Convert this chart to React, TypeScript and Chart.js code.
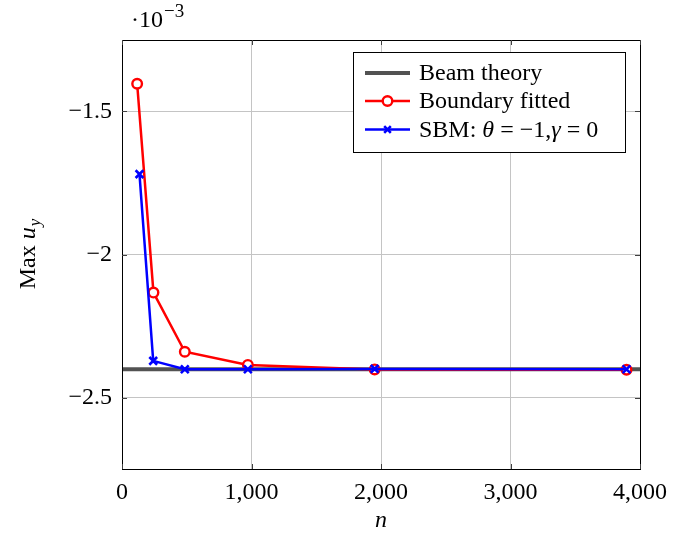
import React, { useEffect, useRef } from "react";
import { Chart, registerables } from "chart.js";

Chart.register(...registerables);

// Mesh size n for each run
const nBoundary = [117, 243, 485, 972, 1951, 3896];
const nSbm = [135, 241, 485, 972, 1951, 3896];
// Max u_y, in units of 1e-3
const uyBoundary = [-1.403, -2.133, -2.34, -2.386, -2.402, -2.403];
const uySbm = [-1.719, -2.372, -2.401, -2.401, -2.4, -2.401];
const uyBeam = -2.401;
const beamRange = [0, 4000];

const yTicks = [-2.5, -2, -1.5];
const xTicks = [0, 1000, 2000, 3000, 4000];
const scaleExponent = "−3";

const FONT = "'Liberation Serif', 'Times New Roman', serif";
const CANVAS_W = 676;
const CANVAS_H = 539;

const frame = {
  id: "frame",
  afterDatasetsDraw(chart: any) {
    const { ctx, chartArea: a } = chart;
    ctx.save();
    ctx.strokeStyle = "#000";
    ctx.lineWidth = 1;
    ctx.strokeRect(Math.round(a.left) + 0.5, Math.round(a.top) + 0.5, Math.round(a.right - a.left), Math.round(a.bottom - a.top));
    // inward tick marks on all four sides
    ctx.strokeStyle = "#404040";
    const xs = chart.scales.x;
    const ys = chart.scales.y;
    ctx.beginPath();
    for (const t of xTicks) {
      const px = Math.round(xs.getPixelForValue(t)) + 0.5;
      ctx.moveTo(px, a.bottom); ctx.lineTo(px, a.bottom - 5);
      ctx.moveTo(px, a.top); ctx.lineTo(px, a.top + 5);
    }
    for (const t of yTicks) {
      const py = Math.round(ys.getPixelForValue(t)) + 0.5;
      ctx.moveTo(a.left, py); ctx.lineTo(a.left + 5, py);
      ctx.moveTo(a.right, py); ctx.lineTo(a.right - 5, py);
    }
    ctx.stroke();
    ctx.restore();
  },
};

function drawRuns(ctx: CanvasRenderingContext2D, x: number, y: number, runs: [string, boolean][], size: number) {
  let cx = x;
  for (const [text, italic] of runs) {
    ctx.font = `${italic ? "italic " : ""}${size}px ${FONT}`;
    ctx.fillText(text, cx, y);
    cx += ctx.measureText(text).width;
  }
  return cx;
}

const annotations = {
  id: "annotations",
  afterDraw(chart: any) {
    const { ctx, chartArea: a } = chart;
    ctx.save();
    ctx.fillStyle = "#000";
    ctx.textBaseline = "alphabetic";
    ctx.textAlign = "left";

    // scale factor above the y axis
    ctx.font = `24px ${FONT}`;
    ctx.fillText("·10", a.left + 9, 27);
    const w = ctx.measureText("·10").width;
    ctx.font = `19px ${FONT}`;
    ctx.fillText(scaleExponent, a.left + 10 + w, 17);

    // x axis title
    ctx.font = `italic 24px ${FONT}`;
    ctx.textAlign = "center";
    ctx.fillText("n", (a.left + a.right) / 2, 527);

    // y axis title
    ctx.save();
    ctx.translate(35, (a.top + a.bottom) / 2);
    ctx.rotate(-Math.PI / 2);
    ctx.textAlign = "left";
    ctx.font = `24px ${FONT}`;
    const p1 = ctx.measureText("Max ").width;
    ctx.font = `italic 24px ${FONT}`;
    const p2 = ctx.measureText("u").width;
    ctx.font = `italic 17px ${FONT}`;
    const p3 = ctx.measureText("y").width;
    const start = -(p1 + p2 + p3) / 2;
    const cx = drawRuns(ctx, start, 0, [["Max ", false], ["u", true]], 24);
    ctx.font = `italic 17px ${FONT}`;
    ctx.fillText("y", cx + 1, 5);
    ctx.restore();

    // legend
    const box = { l: 353.5, t: 52.5, r: 625.5, b: 152.5 };
    ctx.fillStyle = "#fff";
    ctx.fillRect(box.l, box.t, box.r - box.l, box.b - box.t);
    ctx.strokeStyle = "#000";
    ctx.lineWidth = 1;
    ctx.strokeRect(box.l, box.t, box.r - box.l, box.b - box.t);
    const dsets = chart.data.datasets;
    const baselines = [80, 108, 136.5];
    dsets.forEach((ds: any, i: number) => {
      const by = baselines[i];
      const ly = by - 7;
      ctx.strokeStyle = ds.borderColor;
      ctx.lineWidth = ds.borderWidth;
      ctx.beginPath();
      ctx.moveTo(365, ly);
      ctx.lineTo(410, ly);
      ctx.stroke();
      if (ds.pointStyle === "circle" && ds.pointRadius > 0) {
        ctx.fillStyle = "#fff";
        ctx.lineWidth = ds.pointBorderWidth;
        ctx.beginPath();
        ctx.arc(387.5, ly, ds.pointRadius, 0, Math.PI * 2);
        ctx.fill();
        ctx.stroke();
      } else if (ds.pointStyle === "crossRot" && ds.pointRadius > 0) {
        const r = ds.pointRadius * 0.6;
        ctx.lineWidth = ds.pointBorderWidth;
        ctx.beginPath();
        ctx.moveTo(387.5 - r, ly - r); ctx.lineTo(387.5 + r, ly + r);
        ctx.moveTo(387.5 - r, ly + r); ctx.lineTo(387.5 + r, ly - r);
        ctx.stroke();
      }
      ctx.fillStyle = "#000";
      ctx.textAlign = "left";
      if (ds.labelRuns) {
        drawRuns(ctx, 419, by, ds.labelRuns, 24);
      } else {
        ctx.font = `24px ${FONT}`;
        ctx.fillText(ds.label, 419, by);
      }
    });
    ctx.restore();
  },
};

export default function App() {
  const ref = useRef<HTMLCanvasElement | null>(null);

  useEffect(() => {
    if (!ref.current) return;
    const chart = new Chart(ref.current, {
      type: "line",
      data: {
        datasets: [
          {
            label: "Beam theory",
            data: beamRange.map((x) => ({ x, y: uyBeam })),
            borderColor: "#525252",
            backgroundColor: "#525252",
            borderWidth: 4,
            pointRadius: 0,
            pointStyle: false as any,
            order: 2,
          } as any,
          {
            label: "Boundary fitted",
            data: nBoundary.map((x, i) => ({ x, y: uyBoundary[i] })),
            borderColor: "#ff0000",
            backgroundColor: "#ffffff",
            borderWidth: 2.5,
            pointStyle: "circle",
            pointRadius: 4.8,
            pointBorderWidth: 2.4,
            pointBackgroundColor: "#ffffff",
            pointBorderColor: "#ff0000",
            order: 1,
          },
          {
            label: "SBM: θ = −1,γ = 0",
            labelRuns: [["SBM: ", false], ["θ", true], [" = −1,", false], ["γ", true], [" = 0", false]],
            data: nSbm.map((x, i) => ({ x, y: uySbm[i] })),
            borderColor: "#0000ff",
            backgroundColor: "#0000ff",
            borderWidth: 2.5,
            pointStyle: "crossRot",
            pointRadius: 5.5,
            pointBorderWidth: 2.6,
            pointBorderColor: "#0000ff",
            order: 0,
          } as any,
        ],
      },
      options: {
        animation: false,
        responsive: false,
        events: [],
        layout: { padding: { left: 0, top: 40, right: 30, bottom: 0 } },
        plugins: { legend: { display: false }, tooltip: { enabled: false } },
        scales: {
          x: {
            type: "linear",
            min: 0,
            max: 4000,
            afterFit: (s: any) => { s.height = 70; },
            afterBuildTicks: (s: any) => { s.ticks = xTicks.map((v) => ({ value: v })); },
            grid: { color: "#c4c4c4", drawTicks: false, lineWidth: 1 },
            border: { display: false },
            ticks: {
              padding: 9,
              color: "#000",
              font: { family: FONT, size: 24 },
              maxRotation: 0,
              callback: (v: any) => Number(v).toLocaleString("en-US"),
            },
          },
          y: {
            type: "linear",
            min: -2.75,
            max: -1.25,
            afterFit: (s: any) => { s.width = 122; },
            afterBuildTicks: (s: any) => { s.ticks = yTicks.map((v) => ({ value: v })); },
            grid: { color: "#c4c4c4", drawTicks: false, lineWidth: 1 },
            border: { display: false },
            ticks: {
              padding: 10,
              color: "#000",
              font: { family: FONT, size: 24 },
              callback: (v: any) => (Number(v) < 0 ? "−" : "") + String(Math.abs(Number(v))),
            },
          },
        },
      },
      plugins: [frame, annotations],
    });
    return () => chart.destroy();
  }, []);

  return (
    <div style={{ position: "absolute", left: 0, top: 0, width: 673, height: 539, overflow: "hidden", background: "#fff" }}>
      <canvas ref={ref} width={CANVAS_W} height={CANVAS_H} style={{ display: "block", width: CANVAS_W, height: CANVAS_H }} />
    </div>
  );
}
